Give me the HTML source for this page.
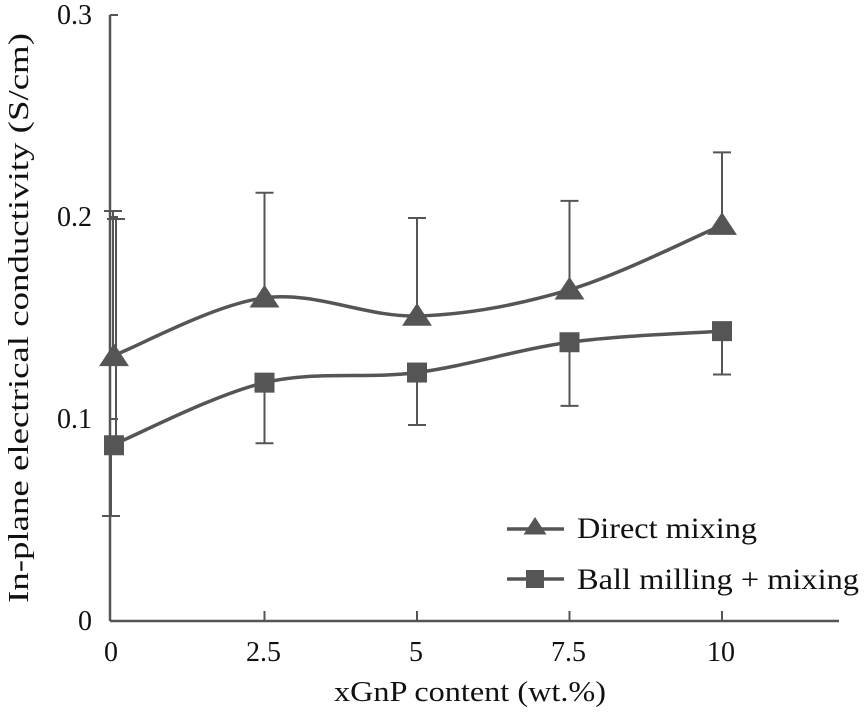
<!DOCTYPE html>
<html><head><meta charset="utf-8"><style>
html,body{margin:0;padding:0;background:#fff;}
svg, svg text{font-family:"Liberation Serif","DejaVu Serif",serif;}
</style></head><body>
<svg id="chart" width="867" height="716" viewBox="0 0 867 716" xmlns="http://www.w3.org/2000/svg" font-family="Liberation Serif, DejaVu Serif, serif"></svg>
<script>
const categories=[0,2.5,5,7.5,10];
const xTickLabels=["0","2.5","5","7.5","10"];
const yTicks=[0,0.1,0.2,0.3];
const yTickLabels=["0","0.1","0.2","0.3"];
const directValues=[0.131,0.160,0.151,0.164,0.196];
const directUpper=[0.203,0.212,0.1995,0.208,0.232];
const ballValues=[0.087,0.118,0.123,0.138,0.1435];
const ballLower=[0.052,0.088,0.097,0.1065,0.122];
const ballUpper=[0.199,null,null,null,null];

const NS="http://www.w3.org/2000/svg";
const svg=document.getElementById('chart');
const X0=112,XS=152.5/2.5,Y0=621,YS=2020;
const xs=v=>X0+v*XS, ys=v=>Y0-v*YS;
const C="#555";
const FF="Liberation Serif, DejaVu Serif, serif";
function mk(t,a,p){const e=document.createElementNS(NS,t);for(const k in a)e.setAttribute(k,a[k]);if(t==='text')e.setAttribute('font-family',FF);(p||svg).appendChild(e);return e;}

let e;
e=mk('line',{x1:110,y1:15,x2:110,y2:Y0,stroke:C,'stroke-width':2.5});


e=mk('line',{x1:110,y1:Y0,x2:839,y2:Y0,stroke:C,'stroke-width':2.5});



yTicks.forEach((v,i)=>{
  if(v>0){e=mk('line',{x1:110,y1:ys(v),x2:118,y2:ys(v),stroke:C,'stroke-width':2});
  
  }
  e=mk('text',{x:92,y:ys(v)+9,'font-size':28,'text-anchor':'end',fill:'#111'});
  e.textContent=yTickLabels[i];
  
  
});
categories.forEach((v,i)=>{
  if(v>0){e=mk('line',{x1:xs(v),y1:Y0,x2:xs(v),y2:Y0-10,stroke:C,'stroke-width':2});
  
  }
  e=mk('text',{x:xs(v)-1,y:Y0+40,'font-size':28,'text-anchor':'middle',fill:'#111'});
  e.textContent=xTickLabels[i];
  
  
});
e=mk('text',{x:470,y:701,'font-size':29,'text-anchor':'middle',fill:'#111',textLength:272,lengthAdjust:'spacingAndGlyphs'});
e.textContent='xGnP content (wt.%)';


e=mk('text',{x:0,y:0,'font-size':29,'text-anchor':'middle',fill:'#111',transform:'translate(28,318) rotate(-90)',textLength:570,lengthAdjust:'spacingAndGlyphs'});
e.textContent='In-plane electrical conductivity (S/cm)';



function errBar(x,v1,v2,name){
  const g=mk('g',{stroke:C,'stroke-width':2});
  
  
  mk('line',{x1:x,y1:ys(v1),x2:x,y2:ys(v2)},g);
  mk('line',{x1:x-9,y1:ys(v2),x2:x+9,y2:ys(v2)},g);
}
categories.forEach((c,i)=>{
  errBar(xs(c)+(i==0?1:0),directValues[i],directUpper[i],'direct-error-bar');
  errBar(xs(c)-(i==0?1:0),ballValues[i],ballLower[i],'ball-error-bar');
  if(ballUpper[i]!=null) errBar(xs(c)+4,ballValues[i],ballUpper[i],'ball-error-bar');
});

function spline(vals){
  const p=categories.map((c,i)=>[xs(c),ys(vals[i])]);
  let d='M'+p[0][0]+','+p[0][1];
  for(let i=0;i<p.length-1;i++){
    const p0=p[i-1]||p[i],p1=p[i],p2=p[i+1],p3=p[i+2]||p2;
    const t=1/6;
    d+=' C'+(p1[0]+(p2[0]-p0[0])*t)+','+(p1[1]+(p2[1]-p0[1])*t)+' '+(p2[0]-(p3[0]-p1[0])*t)+','+(p2[1]-(p3[1]-p1[1])*t)+' '+p2[0]+','+p2[1];
  }
  return d;
}
e=mk('path',{d:spline(directValues),fill:'none',stroke:C,'stroke-width':3.5});


e=mk('path',{d:spline(ballValues),fill:'none',stroke:C,'stroke-width':3.5});



function tri(x,y,s){return `${x},${y-s} ${x-s*1.15},${y+s*0.75} ${x+s*1.15},${y+s*0.75}`;}
categories.forEach((c,i)=>{
  const x=xs(c)+(i==0?2:0);
  e=mk('polygon',{points:tri(x,ys(directValues[i]),13),fill:C});
  
  
  e=mk('rect',{x:x-10,y:ys(ballValues[i])-10,width:20,height:20,fill:C});
  
  
});

const lg=mk('g',{});


e=mk('g',{},lg);


mk('line',{x1:507,y1:529,x2:564,y2:529,stroke:C,'stroke-width':3.5},e);
mk('polygon',{points:tri(535,527,10),fill:C},e);
mk('text',{x:577,y:538,'font-size':30,fill:'#111',textLength:180,lengthAdjust:'spacingAndGlyphs'},e).textContent='Direct mixing';
e=mk('g',{},lg);


mk('line',{x1:507,y1:579,x2:564,y2:579,stroke:C,'stroke-width':3.5},e);
mk('rect',{x:526,y:570,width:18,height:18,fill:C},e);
mk('text',{x:577,y:589,'font-size':30,fill:'#111',textLength:282,lengthAdjust:'spacingAndGlyphs'},e).textContent='Ball milling + mixing';
</script>
</body></html>
